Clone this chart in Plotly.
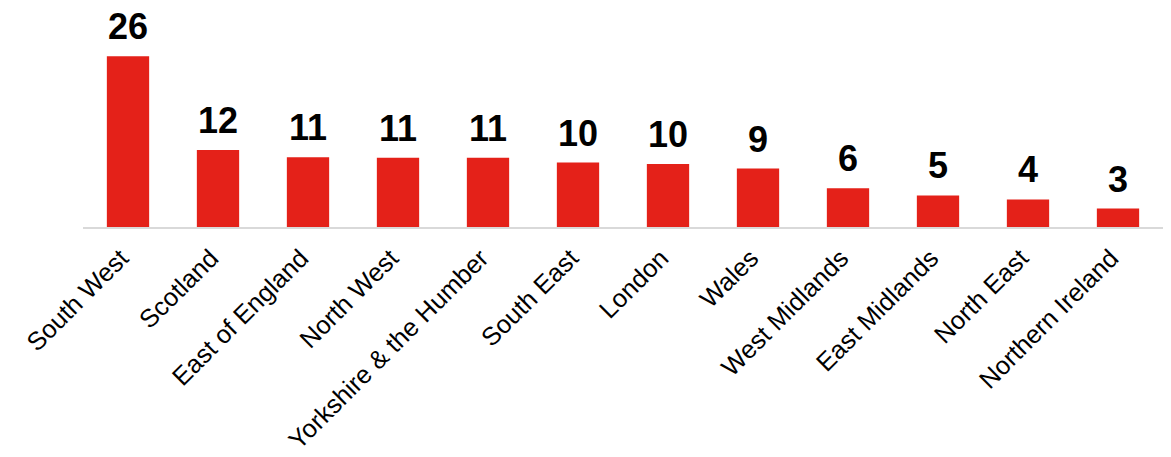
import plotly.graph_objects as go

regions = ["South West", "Scotland", "East of England", "North West",
           "Yorkshire & the Humber", "South East", "London", "Wales",
           "West Midlands", "East Midlands", "North East", "Northern Ireland"]
values = [26.0, 11.7, 10.6, 10.55, 10.55, 9.8, 9.6, 8.9, 5.9, 4.8, 4.2, 2.8]

BAR_COLOR = "#E42119"
FONT = "Liberation Sans, Arial, sans-serif"

fig = go.Figure()
fig.add_trace(go.Bar(
    x=regions, y=values,
    marker=dict(color=BAR_COLOR, line=dict(width=0)),
    hoverinfo="x+y",
))

for r, v in zip(regions, values):
    fig.add_annotation(
        x=r, y=v, text="<b>" + str(int(round(v))) + "</b>",
        showarrow=False, yanchor="bottom", yshift=7,
        font=dict(family=FONT, size=36, color="#000000"),
    )

fig.update_layout(
    width=1171, height=457,
    margin=dict(l=83, r=8, t=43, b=230, autoexpand=False),
    paper_bgcolor="white", plot_bgcolor="white",
    bargap=0.53,
    showlegend=False,
    font=dict(family=FONT, color="#000000"),
)

fig.update_xaxes(
    automargin=False,
    showline=True, linecolor="#d9d9d9", linewidth=2,
    showgrid=False, zeroline=False,
    tickangle=-45, tickfont=dict(family=FONT, size=25.5, color="#000000"),
    ticks="outside", ticklen=4, tickcolor="rgba(0,0,0,0)",
    ticklabelshift=-7,
)
fig.update_yaxes(visible=False, range=[0, 28], automargin=False)

fig.write_html(
    "out.html",
    config={"displayModeBar": False},
    post_script="document.body.style.margin='0';document.body.style.overflow='hidden';",
)
